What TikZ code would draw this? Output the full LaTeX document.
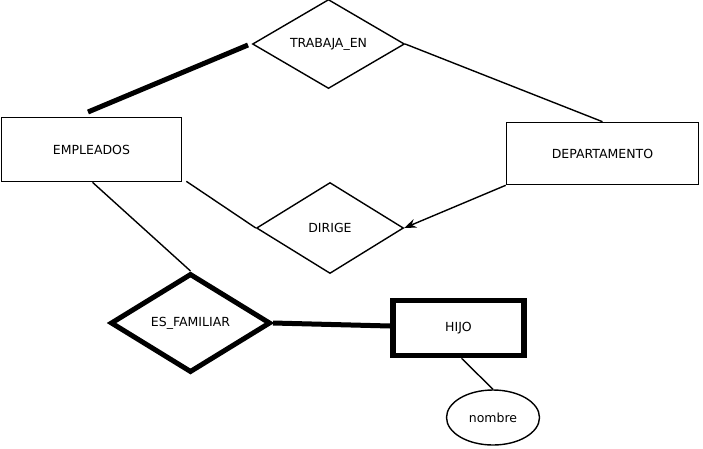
\documentclass[tikz,border=0pt]{standalone}
\usepackage{fontspec}
\setmainfont{DejaVu Sans}
\usetikzlibrary{shapes.geometric,arrows.meta}
\begin{document}
\begin{tikzpicture}[x=1pt,y=-1pt,
  every node/.style={font=\fontsize{12.5}{14}\selectfont},
  entity/.style={draw,line width=1.6pt,rectangle,inner sep=0pt},
  weakentity/.style={draw,line width=5.5pt,rectangle,inner sep=0pt},
  rel/.style={draw,line width=1.4pt,diamond,inner sep=0pt},
  weakrel/.style={draw,line width=5pt,diamond,inner sep=0pt},
  attr/.style={draw,line width=1.4pt,ellipse,inner sep=0pt},
  conn/.style={line width=1.4pt},
  thickconn/.style={line width=5pt}]
\useasboundingbox (0,0) rectangle (703,448);
\fill[white] (0,0) rectangle (703,448);
\node[entity,minimum width=180pt,minimum height=64pt] (emp) at (91.5,149.5) {EMPLEADOS};
\node[entity,minimum width=192pt,minimum height=62pt] (dep) at (602.5,153.5) {DEPARTAMENTO};
\node[rel,minimum width=152pt,minimum height=86pt] (trab) at (328.5,44) {TRABAJA\_EN};
\node[rel,minimum width=147pt,minimum height=91pt] (dir) at (330,228) {DIRIGE};
\node[weakrel,minimum width=160pt,minimum height=99pt] (fam) at (190.5,323) {ES\_FAMILIAR};
\node[weakentity,minimum width=131pt,minimum height=55pt] (hijo) at (458.5,328) {HIJO};
\node[attr,minimum width=93pt,minimum height=55pt] (nom) at (493,417.5) {nombre};
\coordinate (e1) at (88,112);
\coordinate (t1) at (248,45);
\draw[thickconn] (e1) -- (t1);
\draw[conn] (trab.east) -- (dep.north);
\draw[conn] ([xshift=4pt,yshift=1pt]emp.south east) -- (dir.west);
\draw[conn,-{Stealth[length=12pt,width=9pt]}] (dep.south west) -- (dir.east);
\draw[conn] ([xshift=1pt]emp.south) -- (fam.north);
\draw[thickconn] (fam.east) -- ([yshift=2pt]hijo.west);
\draw[conn] ([xshift=3pt]hijo.south) -- (nom.north);
\end{tikzpicture}
\end{document}
